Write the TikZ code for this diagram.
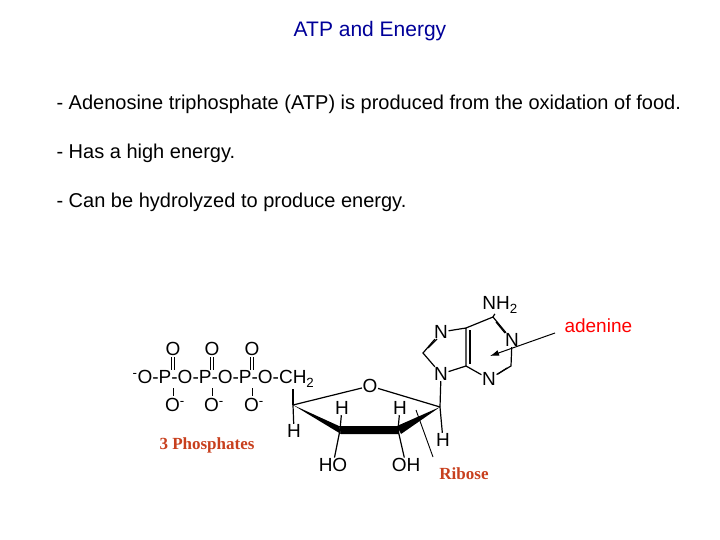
\documentclass[tikz,border=0pt]{standalone}
\usepackage{fontspec}
\usetikzlibrary{arrows.meta}
\setmainfont{Liberation Sans}
\newfontfamily\serifb{Liberation Serif}
\begin{document}
\begin{tikzpicture}[x=1pt,y=-1pt,
  atom/.style={inner sep=0.5pt,font=\fontsize{19}{19}\selectfont},
  bond/.style={line width=1.2pt},
  txt/.style={anchor=west,font=\fontsize{20}{24}\selectfont}]
\useasboundingbox (0,0) rectangle (720,540);
\node[font=\fontsize{21}{24}\selectfont,text={rgb,255:red,0;green,0;blue,153}] (title) at (370,31) {ATP and Energy};
\node[txt] (l1) at (53,104) {- Adenosine triphosphate (ATP) is produced from the oxidation of food.};
\node[txt] (l2) at (53,153) {- Has a high energy.};
\node[txt] (l3) at (53,202) {- Can be hydrolyzed to produce energy.};
% phosphate chain
\node[atom,anchor=west] (chain) at (132,379) {\textsuperscript{-}O-P-O-P-O-P-O-CH\textsubscript{2}};
\foreach \x/\n in {173/a,212/b,252/c}{
  \node[atom] (to\n) at (\x,349) {O};
  \node[atom] (bo\n) at (\x+2,405) {O\textsuperscript{-}};
  \draw[line width=0.8pt] (\x-1.7,357) -- (\x-1.7,370) (\x+1.7,357) -- (\x+1.7,370);
  \draw[line width=0.8pt] (\x,388) -- (\x,396);
}
% ribose
\coordinate (c4) at (293,405);
\coordinate (c3) at (340,430);
\coordinate (c2) at (398,430);
\coordinate (c1) at (440,407);
\node[atom] (o) at (370,386) {O};
\draw[bond] (c4) -- (o) -- (c1);
\draw[bond] (c4) -- (293,389);
\fill (c4) -- (339,426) -- (341,434) -- cycle;
\fill (339,426) -- (399,426) -- (399,434) -- (341,434) -- cycle;
\fill (397,426) -- (440,407) -- (401,434) -- cycle;
\node[atom] (h4) at (294,431) {H};
\node[atom] (h3) at (342,408) {H};
\node[atom] (h2) at (400,408) {H};
\node[atom] (h1) at (443,440) {H};
\node[atom] (ho) at (333,465) {HO};
\node[atom] (oh) at (406,465) {OH};
\draw[bond] (c4) -- (h4); \draw[bond] (c3) -- (h3); \draw[bond] (c2) -- (h2);
\draw[bond] (c1) -- (h1); \draw[bond] (c3) -- (ho); \draw[bond] (c2) -- (oh);
% adenine
\node[atom] (n9) at (441,374) {N};
\node[atom] (n7) at (441,332) {N};
\node[atom] (n1) at (512,340) {N};
\node[atom] (n3) at (489,379) {N};
\node[atom] (nh2) at (500,305) {NH\textsubscript{2}};
\coordinate (c8) at (423,353);
\coordinate (c5) at (466,328);
\coordinate (c4a) at (466,366);
\coordinate (c6) at (493,317);
\coordinate (c2a) at (511,366);
\draw[bond] (c1) -- (n9);
\draw[bond] (n9) -- (c8) -- (n7) -- (c5) -- (c4a) -- (n9);
\draw[bond] (428,348) -- (437,339);
\draw[bond] (470,330) -- (470,364);
\draw[bond] (c5) -- (c6) -- (n1);
\draw[bond] (c6) -- (nh2);
\draw[bond] (496,322) -- (505,333);
\draw[bond] (n1) -- (c2a) -- (n3) -- (c4a);
\draw[bond] (507,368) -- (498,374);
% labels
\node[font=\fontsize{19}{19}\selectfont,text=red,anchor=west] (aden) at (561,326) {adenine};
\draw[-{Latex[length=9pt,width=6pt]},line width=1pt] (555,333) -- (490,356);
\node[font=\serifb\bfseries\fontsize{17}{17}\selectfont,text={rgb,255:red,200;green,64;blue,30}] (ph) at (207,445) {3 Phosphates};
\node[font=\serifb\bfseries\fontsize{17}{17}\selectfont,text={rgb,255:red,200;green,64;blue,30}] (rib) at (464,474) {Ribose};
\draw[line width=0.9pt] (433,457) -- (416,410);
\end{tikzpicture}
\end{document}
